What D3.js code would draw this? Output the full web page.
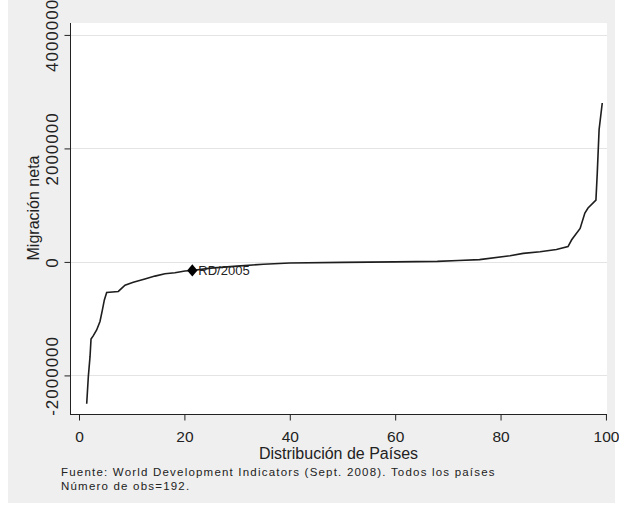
<!DOCTYPE html>
<html>
<head>
<meta charset="utf-8">
<script src="https://cdn.jsdelivr.net/npm/d3@7"></script>
<style>
  body { margin: 0; background: #ffffff; }
  svg { display: block; font-family: "Liberation Sans", Arial, sans-serif; }
</style>
</head>
<body>
<div id="chart"></div>
<script>
// percentil del país (eje x) y migración neta (eje y)
const percentil = [1.46, 1.77, 2.09, 2.28, 2.72, 3.35, 3.98, 4.43, 4.81, 5.25, 7.46, 8.73, 10.3, 12.5, 14.4,
    16.3, 18.2, 20.1, 21.5, 25, 30, 35, 40, 50, 60, 68, 72, 76, 81.8, 84.3, 87.5, 90.6, 92.8, 93.5,
    95.1, 96.0, 96.6, 98.1, 98.35, 98.7, 99.3];
const migracion = [-2500000, -2020000, -1670000, -1360000, -1300000, -1200000, -1050000, -850000, -670000,
    -540000, -520000, -410000, -360000, -300000, -250000, -210000, -190000, -160000, -150000, -110000,
    -75000, -40000, -20000, -8000, 0, 10000, 25000, 40000, 110000, 150000, 180000, 220000, 270000, 390000,
    590000, 860000, 950000, 1090000, 1560000, 2330000, 2800000];

// punto destacado
const rdPct = 21.5, rdValor = -150000, rdEtiqueta = "RD/2005";

const xTicks = [0, 20, 40, 60, 80, 100];
const yTicks = [-2000000, 0, 2000000, 4000000];

const xTitulo = "Distribución de Países";
const yTitulo = "Migración neta";
const nota1 = "Fuente: World Development Indicators (Sept. 2008). Todos los países";
const nota2 = "Número de obs=192.";

// dimensions
const W = 619, H = 511;
const plot = { left: 70, right: 607, top: 23, bottom: 414 };

const svg = d3.select("#chart").append("svg")
    .attr("width", W)
    .attr("height", H);

// gray background
svg.append("rect")
    .attr("x", 8).attr("y", 0)
    .attr("width", 607).attr("height", 503)
    .attr("fill", "#efefef");

// plot region
svg.append("rect")
    .attr("x", plot.left).attr("y", plot.top)
    .attr("width", plot.right - plot.left).attr("height", plot.bottom - plot.top)
    .attr("fill", "#ffffff");

const x = d3.scaleLinear()
    .domain([-1.71, 100.2])
    .range([plot.left, plot.right]);

const y = d3.scaleLinear()
    .domain([-2680000, 4210000])
    .range([plot.bottom, plot.top]);

// grid lines
svg.append("g")
    .selectAll("line")
    .data(yTicks)
    .join("line")
    .attr("x1", plot.left).attr("x2", plot.right)
    .attr("y1", d => Math.round(y(d)) + 0.5).attr("y2", d => Math.round(y(d)) + 0.5)
    .attr("stroke", "#e4e4e4")
    .attr("stroke-width", 1);

// the line
const data = percentil.map((p, i) => ({ p: p, v: migracion[i] }));
svg.append("path")
    .datum(data)
    .attr("fill", "none")
    .attr("stroke", "#1e1e1e")
    .attr("stroke-width", 1.6)
    .attr("d", d3.line().x(d => x(d.p)).y(d => y(d.v)));

// marker RD/2005
svg.append("path")
    .attr("d", d3.symbol().type(d3.symbolDiamond2).size(95))
    .attr("transform", `translate(${x(rdPct)},${y(rdValor)}) scale(0.85,1)`)
    .attr("fill", "#000");
svg.append("text")
    .attr("x", x(rdPct) + 6)
    .attr("y", y(rdValor) + 5)
    .attr("font-size", "13px")
    .attr("fill", "#222")
    .text(rdEtiqueta);

// x axis
const gx = svg.append("g")
    .attr("transform", `translate(0,${plot.bottom + 0.5})`)
    .call(d3.axisBottom(x).tickValues(xTicks).tickSize(6).tickSizeOuter(0).tickFormat(d => String(d)));
gx.select(".domain").attr("d", `M${plot.left},0H${plot.right}`).attr("stroke", "#222");
gx.selectAll(".tick line").attr("stroke", "#222");
gx.selectAll(".tick text")
    .attr("y", 27).attr("dy", 0)
    .attr("font-size", "15.5px")
    .attr("fill", "#222");

// y axis
const gy = svg.append("g")
    .attr("transform", `translate(${plot.left + 0.5},0)`)
    .call(d3.axisLeft(y).tickValues(yTicks).tickSize(6).tickSizeOuter(0).tickFormat(d => String(d)));
gy.select(".domain").attr("d", `M0,${plot.top}V${plot.bottom}`).attr("stroke", "#222");
gy.selectAll(".tick line").attr("stroke", "#222");
gy.selectAll(".tick text")
    .attr("transform", "rotate(-90)")
    .attr("x", 0).attr("y", -13).attr("dy", 0)
    .attr("text-anchor", "middle")
    .attr("font-size", "17px")
    .attr("letter-spacing", "1px")
    .attr("fill", "#222");

// axis titles
svg.append("text")
    .attr("x", (plot.left + plot.right) / 2)
    .attr("y", 459)
    .attr("text-anchor", "middle")
    .attr("font-size", "16px")
    .attr("fill", "#222")
    .text(xTitulo);

svg.append("text")
    .attr("transform", "rotate(-90)")
    .attr("x", -208)
    .attr("y", 39)
    .attr("text-anchor", "middle")
    .attr("font-size", "16px")
    .attr("fill", "#222")
    .text(yTitulo);

// notes
svg.append("text")
    .attr("x", 61).attr("y", 476)
    .attr("font-size", "11.5px")
    .attr("letter-spacing", "1.2px")
    .attr("fill", "#222")
    .text(nota1);
svg.append("text")
    .attr("x", 61).attr("y", 490)
    .attr("font-size", "11.5px")
    .attr("letter-spacing", "1.2px")
    .attr("fill", "#222")
    .text(nota2);
</script>
</body>
</html>
